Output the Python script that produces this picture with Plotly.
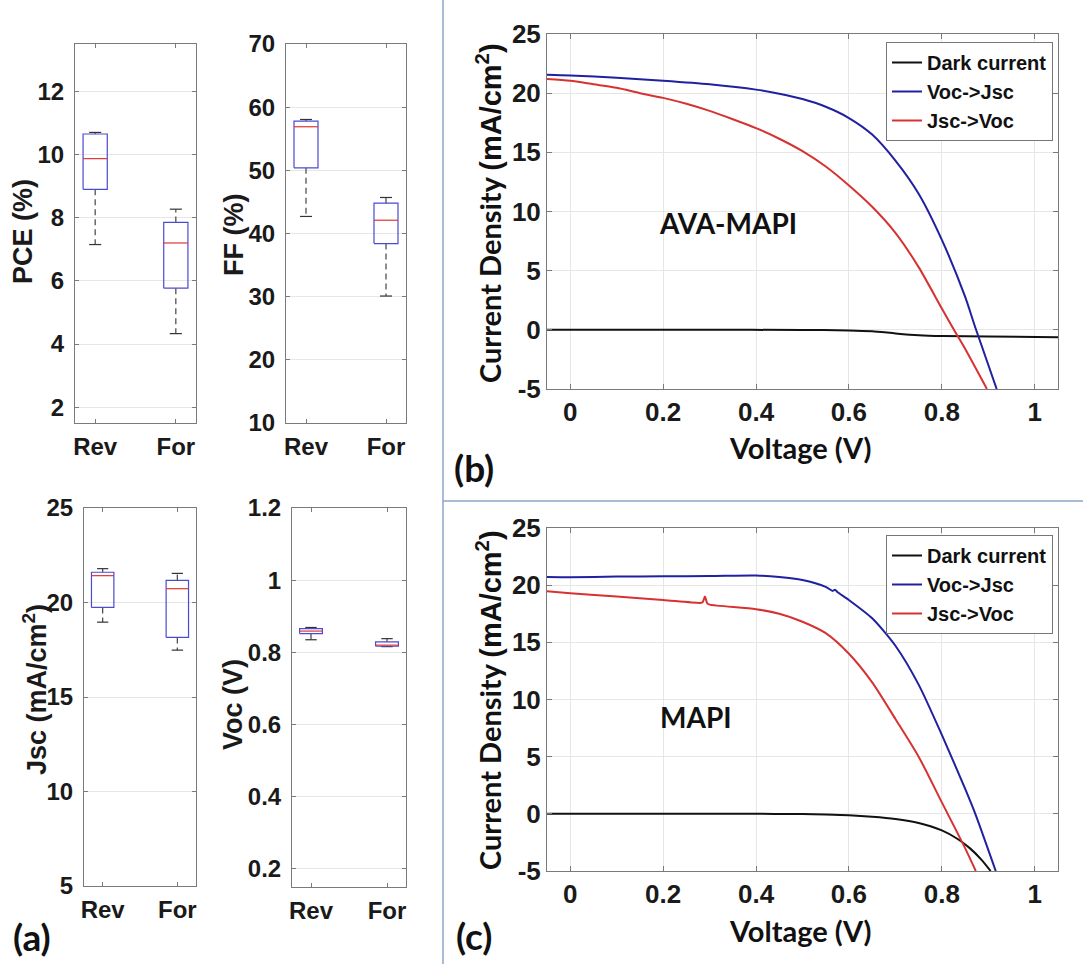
import plotly.graph_objects as go

W, H = 1083, 964

# ---- (a) box-plot statistics (Rev / For) ----
groups = ["Rev", "For"]
group_pos = [1, 2]

pce_low = [7.15, 4.33]
pce_q1 = [8.90, 5.77]
pce_med = [9.87, 7.20]
pce_q3 = [10.65, 7.85]
pce_high = [10.70, 8.27]

ff_low = [42.7, 30.1]
ff_q1 = [50.4, 38.4]
ff_med = [56.9, 42.1]
ff_q3 = [57.8, 44.8]
ff_high = [58.05, 45.7]

jsc_low = [18.96, 17.48]
jsc_q1 = [19.74, 18.15]
jsc_med = [21.42, 20.73]
jsc_q3 = [21.60, 21.17]
jsc_high = [21.79, 21.54]

voc_low = [0.835, 0.816]
voc_q1 = [0.852, 0.817]
voc_med = [0.859, 0.820]
voc_q3 = [0.866, 0.829]
voc_high = [0.869, 0.838]

# ---- (b) AVA-MAPI J-V ----
b_dark_v = [-0.05, 0.3, 0.5, 0.6, 0.65, 0.7, 0.75, 0.8, 0.9, 1.05]
b_dark_j = [0.0, 0.0, -0.01, -0.05, -0.12, -0.3, -0.45, -0.52, -0.57, -0.62]

b_rev_v = [-0.05, 0.0, 0.1, 0.2, 0.3, 0.4, 0.45, 0.5, 0.55, 0.6, 0.65, 0.7, 0.75, 0.8, 0.85, 0.872, 0.918]
b_rev_j = [21.56, 21.5, 21.3, 21.05, 20.75, 20.3, 19.95, 19.5, 18.85, 17.9, 16.5, 14.3, 11.5, 7.6, 2.8, 0.2, -5.0]

b_fwd_v = [-0.05, 0.0, 0.05, 0.1, 0.15, 0.2, 0.25, 0.3, 0.35, 0.4, 0.45, 0.5, 0.55, 0.6, 0.65, 0.7, 0.75, 0.8, 0.826, 0.85, 0.897]
b_fwd_j = [21.2, 21.05, 20.75, 20.45, 20.0, 19.6, 19.1, 18.5, 17.8, 17.05, 16.15, 15.1, 13.8, 12.2, 10.4, 8.2, 5.3, 1.8, 0.0, -1.6, -5.0]

# ---- (c) MAPI J-V ----
c_dark_v = [-0.05, 0.4, 0.5, 0.55, 0.6, 0.65, 0.7, 0.75, 0.8, 0.834, 0.86, 0.885, 0.905]
c_dark_j = [0.0, 0.0, -0.02, -0.06, -0.12, -0.25, -0.45, -0.8, -1.45, -2.2, -3.0, -4.0, -5.0]

c_rev_v = [-0.05, 0.0, 0.1, 0.2, 0.3, 0.4, 0.45, 0.5, 0.55, 0.565, 0.57, 0.575, 0.6, 0.65, 0.7, 0.75, 0.8, 0.85, 0.872, 0.916]
c_rev_j = [20.72, 20.7, 20.75, 20.78, 20.8, 20.85, 20.72, 20.45, 19.85, 19.5, 19.6, 19.4, 18.7, 17.1, 14.7, 11.3, 6.9, 2.2, 0.0, -5.0]

c_fwd_v = [-0.05, 0.0, 0.1, 0.2, 0.28, 0.285, 0.29, 0.295, 0.3, 0.4, 0.45, 0.5, 0.55, 0.6, 0.65, 0.7, 0.75, 0.8, 0.85, 0.873]
c_fwd_j = [19.47, 19.3, 19.0, 18.7, 18.45, 18.5, 19.0, 18.4, 18.3, 17.9, 17.5, 16.8, 15.8, 14.0, 11.5, 8.3, 5.0, 1.0, -3.0, -5.0]

jv_ticks = [-5, 0, 5, 10, 15, 20, 25]
jv_ticktext = ["-5", "0", "5", "10", "15", "20", "25"]


def px(x):
    return x / W


def py(y):
    return 1 - y / H


BOX_BLUE = "#4b4bd2"
MED_RED = "#e03535"
FRAME = "#7a7a7a"
GRID = "#e6e6e6"
TICKFONT = dict(family="Liberation Sans", size=24, weight="bold", color="#1a1a1a")
JV_TICKFONT = dict(family="Liberation Sans", size=26, weight="bold", color="#1a1a1a")

fig = go.Figure()


def add_box(xref, yref, low, q1, med, q3, high):
    hw, cw = 0.15, 0.075
    bx, by, mx, my, wx, wy, cx, cy = [], [], [], [], [], [], [], []
    for i, p in enumerate(group_pos):
        bx += [p - hw, p + hw, p + hw, p - hw, p - hw, None]
        by += [q1[i], q1[i], q3[i], q3[i], q1[i], None]
        mx += [p - hw, p + hw, None]
        my += [med[i], med[i], None]
        wx += [p, p, None, p, p, None]
        wy += [q3[i], high[i], None, q1[i], low[i], None]
        cx += [p - cw, p + cw, None, p - cw, p + cw, None]
        cy += [high[i], high[i], None, low[i], low[i], None]
    common = dict(xaxis=xref, yaxis=yref, mode="lines", showlegend=False, hoverinfo="skip")
    fig.add_trace(go.Scatter(x=wx, y=wy, line=dict(color="#444", width=1.2, dash="6px,4px"), **common))
    fig.add_trace(go.Scatter(x=cx, y=cy, line=dict(color="#333", width=1.2), **common))
    fig.add_trace(go.Scatter(x=bx, y=by, line=dict(color=BOX_BLUE, width=1.2), **common))
    fig.add_trace(go.Scatter(x=mx, y=my, line=dict(color=MED_RED, width=1.2), **common))


add_box("x", "y", pce_low, pce_q1, pce_med, pce_q3, pce_high)
add_box("x2", "y2", ff_low, ff_q1, ff_med, ff_q3, ff_high)
add_box("x3", "y3", jsc_low, jsc_q1, jsc_med, jsc_q3, jsc_high)
add_box("x4", "y4", voc_low, voc_q1, voc_med, voc_q3, voc_high)

JV_COLORS = {"dark": "#111111", "rev": "#2020a0", "fwd": "#d63232"}
jv_sets = [
    ("x5", "y5", "legend", b_dark_v, b_dark_j, b_rev_v, b_rev_j, b_fwd_v, b_fwd_j),
    ("x6", "y6", "legend2", c_dark_v, c_dark_j, c_rev_v, c_rev_j, c_fwd_v, c_fwd_j),
]
for xa, ya, lg, dv, dj, rv, rj, fv, fj in jv_sets:
    for name, v, j, key in [("Dark current", dv, dj, "dark"), ("Voc->Jsc", rv, rj, "rev"), ("Jsc->Voc", fv, fj, "fwd")]:
        fig.add_trace(go.Scatter(
            x=v, y=j, mode="lines", name=name, xaxis=xa, yaxis=ya, legend=lg,
            line=dict(color=JV_COLORS[key], width=2, shape="spline", smoothing=0.7),
        ))

AXIS_BASE = dict(zeroline=False, showline=True, mirror="ticks", linecolor=FRAME, ticks="inside",
                 tickcolor=FRAME, automargin=False)


def box_x(dom):
    return dict(AXIS_BASE, domain=[px(dom[0]), px(dom[1])], range=[0.75, 2.25], tickvals=group_pos,
                ticktext=groups, showgrid=False, ticklen=4, tickfont=TICKFONT, ticklabelstandoff=2)


def box_y(dom, rng, dtick, tick0):
    return dict(AXIS_BASE, domain=[py(dom[1]), py(dom[0])], range=rng, dtick=dtick, tick0=tick0,
                showgrid=True, gridcolor=GRID, ticklen=4, tickfont=TICKFONT, ticklabelstandoff=5)


def jv_x(dom):
    return dict(AXIS_BASE, domain=[px(dom[0]), px(dom[1])], range=[-0.05, 1.05], dtick=0.2, tick0=0,
                showgrid=True, gridcolor=GRID, ticklen=5, tickfont=JV_TICKFONT, ticklabelstandoff=0)


def jv_y(dom):
    return dict(AXIS_BASE, domain=[py(dom[1]), py(dom[0])], range=[-5, 25], tickvals=jv_ticks,
                ticktext=jv_ticktext, showgrid=True, gridcolor=GRID, ticklen=5, tickfont=JV_TICKFONT,
                ticklabelstandoff=0)


LEGEND = dict(xanchor="left", yanchor="top", bgcolor="white", bordercolor="#777", borderwidth=1,
              font=dict(family="Liberation Sans", size=20, weight="bold", color="#111"),
              itemwidth=30, tracegroupgap=0)

title_font = dict(family="Liberation Sans", size=27, weight="bold", color="#1a1a1a")
calibri = dict(family="Lato", weight="bold", color="#111")

annotations = []


def note(text, x, y, font, angle=0):
    annotations.append(dict(text=text, x=px(x), y=py(y), xref="paper", yref="paper", showarrow=False,
                            xanchor="center", yanchor="middle", textangle=angle, font=font))


note("PCE (%)", 23, 232, title_font, -90)
note("FF (%)", 234, 235, title_font, -90)
note("Jsc (mA/cm<sup>2</sup>)", 35, 690, title_font, -90)
note("Voc (V)", 233, 705, title_font, -90)
jv_title = 'Current Density <span style="font-family:Liberation Sans">(mA/cm<sup>2</sup>)</span>'
note(jv_title, 489, 213, dict(calibri, size=29), -90)
note(jv_title, 489, 700, dict(calibri, size=29), -90)
note("Voltage (V)", 800, 447, dict(calibri, size=29))
note("Voltage (V)", 800, 930, dict(calibri, size=29))
note("AVA-MAPI", 728, 223, dict(calibri, size=28))
note("MAPI", 696, 717, dict(calibri, size=28))
note("(a)", 32, 936, dict(calibri, size=37))
note("(b)", 474, 467, dict(calibri, size=37))
note("(c)", 474, 935, dict(calibri, size=37))

fig.update_layout(
    width=W, height=H,
    margin=dict(l=0, r=0, t=0, b=0, pad=0, autoexpand=False),
    paper_bgcolor="white", plot_bgcolor="white",
    xaxis=box_x([75, 196]), yaxis=dict(box_y([44, 423], [1.5, 13.5], 2, 2), anchor="x"),
    xaxis2=dict(box_x([286, 406]), anchor="y2"), yaxis2=dict(box_y([44, 423], [10, 70], 10, 10), anchor="x2"),
    xaxis3=dict(box_x([84, 196]), anchor="y3"), yaxis3=dict(box_y([508, 886], [5, 25], 5, 5), anchor="x3"),
    xaxis4=dict(box_x([292, 406]), anchor="y4"), yaxis4=dict(box_y([508, 887], [0.15, 1.2], 0.2, 0.2), anchor="x4"),
    xaxis5=dict(jv_x([547, 1058]), anchor="y5"), yaxis5=dict(jv_y([34, 389]), anchor="x5"),
    xaxis6=dict(jv_x([547, 1058]), anchor="y6"), yaxis6=dict(jv_y([528, 871]), anchor="x6"),
    legend=dict(LEGEND, x=px(886), y=py(42)),
    legend2=dict(LEGEND, x=px(886), y=py(535)),
    annotations=annotations,
    shapes=[
        dict(type="line", xref="paper", yref="paper", x0=px(443), x1=px(443), y0=0, y1=1,
             line=dict(color="#8aa6c8", width=1.5)),
        dict(type="line", xref="paper", yref="paper", x0=px(443), x1=1, y0=py(501), y1=py(501),
             line=dict(color="#8aa6c8", width=1.5)),
    ],
)

fig.write_html("out.html", config={"displayModeBar": False},
               post_script="document.body.style.margin='0';")
